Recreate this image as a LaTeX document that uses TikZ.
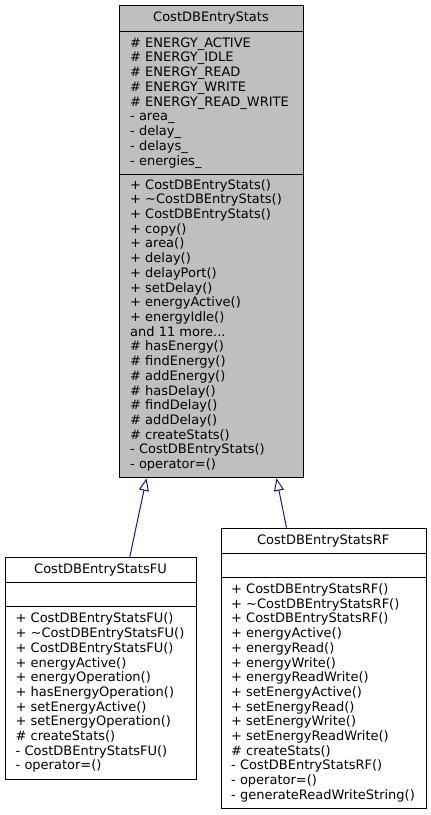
\documentclass[tikz,border=0pt]{standalone}
\usepackage{fontspec}
\setmainfont{DejaVu Sans}
\usetikzlibrary{arrows.meta}
\definecolor{basefill}{HTML}{BFBFBF}
\definecolor{edgeblue}{HTML}{191970}
\newcommand{\elevenmore}{and 11 more...}
\begin{document}
\begin{tikzpicture}[x=1pt,y=-1pt,
  txt/.style={font=\fontsize{13.0}{14.7}\selectfont, inner sep=0pt, text=black},
  classbox/.style={draw=black, line width=1pt, inner sep=0pt, anchor=north west},
  member/.style={txt, anchor=base west},
  ctitle/.style={txt, anchor=base},
  sepline/.style={draw=black, line width=1pt},
  inherit/.style={draw=edgeblue, line width=1pt, -{Triangle[open, length=12.5pt, width=10pt]}}]
\useasboundingbox (0,0) rectangle (431,815);

% ---- base class ----
\node[classbox, fill=basefill, minimum width=183.4pt, minimum height=472.3pt] (base) at (119.3,5) {};
\draw[sepline] (119.3,31) -- (302.7,31);
\draw[sepline] (119.3,174) -- (302.7,174);
\node[ctitle] (basetitle) at (211,21.5) {CostDBEntryStats};
\foreach \t [count=\i] in {\# ENERGY\_ACTIVE, \# ENERGY\_IDLE, \# ENERGY\_READ, \# ENERGY\_WRITE, \# ENERGY\_READ\_WRITE, - area\_, - delay\_, - delays\_, - energies\_}
  \node[member] (ba\i) at (130, {47+(\i-1)*14.75}) {\t};
\foreach \t [count=\i] in {+ CostDBEntryStats(), + \textasciitilde CostDBEntryStats(), + CostDBEntryStats(), + copy(), + area(), + delay(), + delayPort(), + setDelay(), + energyActive(), + energyIdle(), \elevenmore, \# hasEnergy(), \# findEnergy(), \# addEnergy(), \# hasDelay(), \# findDelay(), \# addDelay(), \# createStats(), - CostDBEntryStats(), - operator=()}
  \node[member] (bm\i) at (130, {189+(\i-1)*14.72}) {\t};

% ---- FU class ----
\node[classbox, fill=white, minimum width=191pt, minimum height=222pt] (fu) at (5,556.7) {};
\draw[sepline] (5,582) -- (196,582);
\draw[sepline] (5,606.7) -- (196,606.7);
\node[ctitle] (futitle) at (100.5,573) {CostDBEntryStatsFU};
\foreach \t [count=\i] in {+ CostDBEntryStatsFU(), + \textasciitilde CostDBEntryStatsFU(), + CostDBEntryStatsFU(), + energyActive(), + energyOperation(), + hasEnergyOperation(), + setEnergyActive(), + setEnergyOperation(), \# createStats(), - CostDBEntryStatsFU(), - operator=()}
  \node[member] (fm\i) at (15.5, {622.9+(\i-1)*14.7}) {\t};

% ---- RF class ----
\node[classbox, fill=white, minimum width=205pt, minimum height=280.6pt] (rf) at (220.7,527.7) {};
\draw[sepline] (220.7,553) -- (425.7,553);
\draw[sepline] (220.7,577.5) -- (425.7,577.5);
\node[ctitle] (rftitle) at (323.2,544) {CostDBEntryStatsRF};
\foreach \t [count=\i] in {+ CostDBEntryStatsRF(), + \textasciitilde CostDBEntryStatsRF(), + CostDBEntryStatsRF(), + energyActive(), + energyRead(), + energyWrite(), + energyReadWrite(), + setEnergyActive(), + setEnergyRead(), + setEnergyWrite(), + setEnergyReadWrite(), \# createStats(), - CostDBEntryStatsRF(), - operator=(), - generateReadWriteString()}
  \node[member] (rm\i) at (231, {593.5+(\i-1)*14.7}) {\t};

% ---- inheritance ----
\draw[inherit] ([xshift=28.8pt]fu.north) -- ([xshift=-65pt]base.south);
\draw[inherit] ([xshift=-37.2pt]rf.north) -- ([xshift=65pt]base.south);
\end{tikzpicture}
\end{document}
